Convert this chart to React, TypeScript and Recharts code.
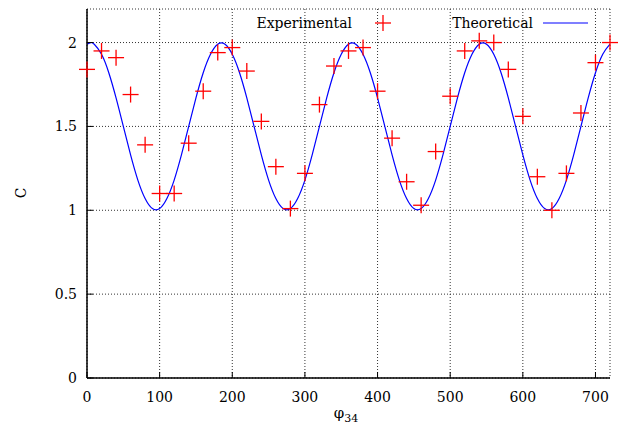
import React from 'react';
import {
  ComposedChart,
  Line,
  Scatter,
  XAxis,
  YAxis,
  CartesianGrid,
  Legend
} from 'recharts';

const FONT = '"DejaVu Serif", serif';

// theoretical curve, read every 10 degrees (plus the first peak at 5)
const thPhi = [
  0, 5, 10, 20, 30, 40, 50, 60, 70, 80, 90, 100, 110, 120, 130, 140, 150, 160, 170, 180,
  190, 200, 210, 220, 230, 240, 250, 260, 270, 280, 290, 300, 310, 320, 330, 340, 350, 360,
  370, 380, 390, 400, 410, 420, 430, 440, 450, 460, 470, 480, 490, 500, 510, 520, 530, 540,
  550, 560, 570, 580, 590, 600, 610, 620, 630, 640, 650, 660, 670, 680, 690, 700, 710, 720
];
const thC = [
  1.99, 2.0, 1.99, 1.93, 1.82, 1.67, 1.5, 1.33, 1.18, 1.07, 1.01, 1.01, 1.07, 1.18, 1.33, 1.5, 1.67, 1.82, 1.93, 1.99,
  1.99, 1.93, 1.82, 1.67, 1.5, 1.33, 1.18, 1.07, 1.01, 1.01, 1.07, 1.18, 1.33, 1.5, 1.67, 1.82, 1.93, 1.99,
  1.99, 1.93, 1.82, 1.67, 1.5, 1.33, 1.18, 1.07, 1.01, 1.01, 1.07, 1.18, 1.33, 1.5, 1.67, 1.82, 1.93, 1.99,
  1.99, 1.93, 1.82, 1.67, 1.5, 1.33, 1.18, 1.07, 1.01, 1.01, 1.07, 1.18, 1.33, 1.5, 1.67, 1.82, 1.93, 1.99
];

// measured points
const expPhi = [
  0, 20, 40, 60, 80, 100, 120, 140, 160, 180, 200, 220, 240, 260, 280, 300, 320, 340, 360,
  380, 400, 420, 440, 460, 480, 500, 520, 540, 560, 580, 600, 620, 640, 660, 680, 700, 720
];
const expC = [
  1.84, 1.95, 1.91, 1.69, 1.39, 1.1, 1.1, 1.4, 1.71, 1.94, 1.97, 1.83, 1.53, 1.26, 1.01, 1.22, 1.63, 1.86, 1.95,
  1.97, 1.71, 1.43, 1.17, 1.03, 1.35, 1.68, 1.95, 2.01, 2.0, 1.84, 1.56, 1.2, 1.0, 1.22, 1.58, 1.88, 2.0
];

const xTicks = [0, 100, 200, 300, 400, 500, 600, 700];
const yTicks = [0, 0.5, 1, 1.5, 2];

const theoretical = thPhi.map((x, i) => ({ x, c: thC[i] }));
const experimental = expPhi.map((x, i) => ({ x, c: expC[i] }));

const Plus = (props: any) => {
  const { cx, cy } = props;
  return (
    <g stroke="#ff0000" strokeWidth={1.3}>
      <line x1={cx - 8} y1={cy} x2={cx + 8} y2={cy} />
      <line x1={cx} y1={cy - 8} x2={cx} y2={cy + 8} />
    </g>
  );
};

const Key = () => (
  <svg width={632} height={36} style={{ display: 'block' }}>
    <text x={352} y={28} textAnchor="end" fontFamily={FONT} fontSize={14} fill="#000">
      Experimental
    </text>
    <line x1={375} y1={23} x2={391} y2={23} stroke="#ff0000" strokeWidth={1.3} />
    <line x1={383} y1={15} x2={383} y2={31} stroke="#ff0000" strokeWidth={1.3} />
    <text x={533} y={28} textAnchor="end" fontFamily={FONT} fontSize={14} fill="#000">
      Theoretical
    </text>
    <line x1={543} y1={23} x2={588} y2={23} stroke="#0000ff" strokeWidth={1.2} />
  </svg>
);

const tickStyle = { fill: '#000', fontSize: 14, fontFamily: FONT };
const frame = { stroke: '#000', strokeWidth: 1.5 };

export default function App() {
  return (
    <div style={{ position: 'absolute', left: 0, top: 0, background: '#fff' }}>
      <ComposedChart
        width={632}
        height={430}
        margin={{ top: 9, right: 22, bottom: 22, left: 27 }}
      >
        <CartesianGrid stroke="#333" strokeDasharray="1 2" />
        <XAxis
          dataKey="x"
          type="number"
          domain={[0, 720]}
          ticks={xTicks}
          height={30}
          tickSize={-6}
          tickMargin={20}
          axisLine={frame}
          tickLine={{ stroke: '#000' }}
          tick={tickStyle}
          label={{
            content: () => (
              <text x={346} y={418} textAnchor="middle" fontFamily={FONT} fontSize={15} fill="#000">
                φ<tspan fontSize={11} dy={4}>34</tspan>
              </text>
            )
          }}
        />
        <XAxis
          xAxisId="top"
          orientation="top"
          dataKey="x"
          type="number"
          domain={[0, 720]}
          ticks={xTicks}
          height={0}
          tickSize={-6}
          axisLine={frame}
          tickLine={{ stroke: '#000' }}
          tick={false}
        />
        <YAxis
          type="number"
          domain={[0, 2.2]}
          ticks={yTicks}
          width={60}
          tickSize={-6}
          tickMargin={16}
          axisLine={frame}
          tickLine={{ stroke: '#000' }}
          tick={tickStyle}
          label={{
            content: () => (
              <text
                x={26}
                y={193}
                textAnchor="middle"
                fontFamily={FONT}
                fontSize={14}
                fill="#000"
                transform="rotate(-90 26 193)"
              >
                C
              </text>
            )
          }}
        />
        <YAxis
          yAxisId="right"
          orientation="right"
          type="number"
          domain={[0, 2.2]}
          ticks={yTicks}
          width={0}
          tickSize={-6}
          axisLine={frame}
          tickLine={{ stroke: '#000' }}
          tick={false}
        />
        <Legend
          verticalAlign="middle"
          align="center"
          wrapperStyle={{ top: 0, left: 0, width: 632 }}
          content={() => <Key />}
        />
        <Line
          data={theoretical}
          dataKey="c"
          type="natural"
          stroke="#0000ff"
          strokeWidth={1.2}
          dot={false}
          activeDot={false}
          isAnimationActive={false}
        />
        <Scatter
          data={experimental}
          dataKey="c"
          shape={<Plus />}
          isAnimationActive={false}
        />
      </ComposedChart>
    </div>
  );
}
